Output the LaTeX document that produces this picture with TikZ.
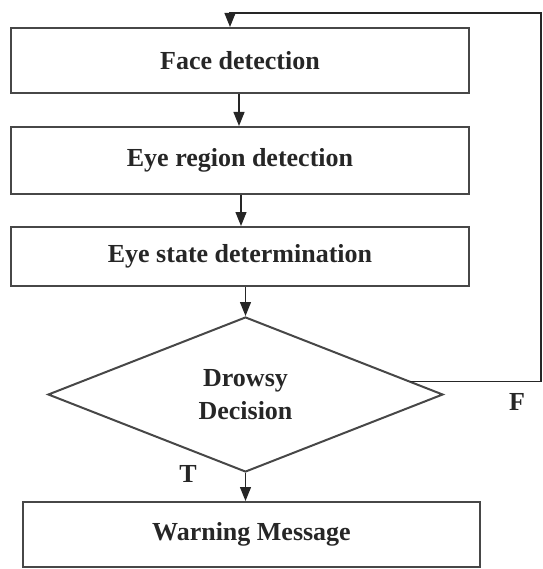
\documentclass[tikz,border=0pt]{standalone}
\usepackage{fontspec}
\setmainfont{Liberation Serif}
\usetikzlibrary{arrows.meta,shapes.geometric,calc}
\tikzset{
  procbox/.style={draw=black!72, line width=2pt, rectangle, inner sep=0pt,
    minimum width=458pt, font=\fontsize{26}{33}\selectfont\bfseries, text=black!85},
  decbox/.style={draw=black!72, line width=2pt, diamond, inner sep=0pt, aspect=2.55,
    minimum width=395pt, minimum height=155pt, align=center,
    font=\fontsize{26}{33}\selectfont\bfseries, text=black!85},
  lbl/.style={font=\fontsize{26}{30}\selectfont\bfseries, text=black!85, inner sep=0pt},
  arr/.style={draw=black!85, line width=1.2pt, -{Triangle[width=11pt,length=14pt]}},
  ln/.style={draw=black!80, line width=1.4pt}
}
\begin{document}
\begin{tikzpicture}[x=1pt,y=-1pt]
\useasboundingbox (0,0) rectangle (542,569);
\node[procbox, minimum height=65pt] (b1) at (240,60.5) {Face detection};
\node[procbox, minimum height=67pt] (b2) at (240,160.5) {Eye region detection};
\node[procbox, minimum height=59pt] (b3) at (240,256.5) {Eye state determination};
\node[decbox] (dec) at (245.5,394.5) {Drowsy\\Decision};
\node[procbox, minimum width=457pt, minimum height=65pt] (b4) at (251.5,534.5) {Warning Message};
\node[lbl] (tl) at (188,474) {T};
\node[lbl] (fl) at (517,402) {F};
\coordinate (fs) at ($(dec.north)!0.83!(dec.east)$);
\coordinate (r2) at (541,13);
\coordinate (r3) at (230,13);
\draw[arr] (b1.south -| 239,0) -- (b2.north -| 239,0);
\draw[arr] (b2.south -| 241,0) -- (b3.north -| 241,0);
\draw[arr] (b3.south -| dec.north) -- (dec.north);
\draw[arr] (dec.south) -- (b4.north -| dec.south);
\draw[arr] (fs) -| (r2) -- (r3) -- (r3 |- b1.north);
\end{tikzpicture}
\end{document}
